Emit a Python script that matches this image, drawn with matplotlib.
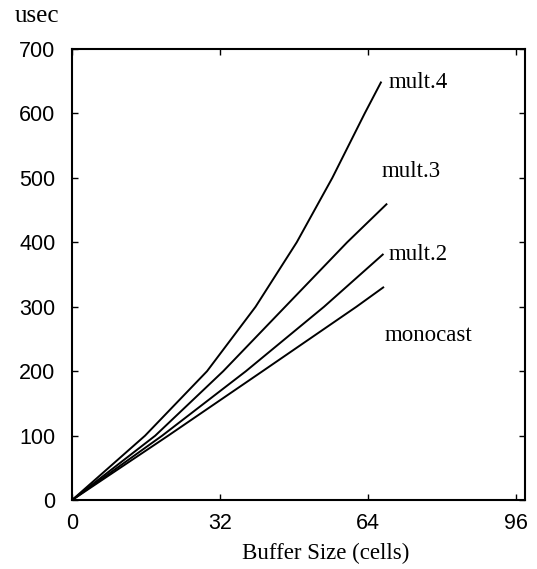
import matplotlib
matplotlib.use("Agg")
import matplotlib.pyplot as plt

# Buffer size (cells) vs. delay (usec)
mult4_x = [0, 15.8, 29.2, 39.7, 48.6, 56.3, 63.3, 66.8]
mult4_y = [0, 100, 200, 300, 400, 500, 600, 648]
mult3_x = [0, 18.0, 32.7, 46.1, 59.5, 68.0]
mult3_y = [0, 100, 200, 300, 400, 459]
mult2_x = [0, 19.5, 37.6, 54.5, 67.2]
mult2_y = [0, 100, 200, 300, 381]
mono_x = [0, 20.8, 41.2, 61.5, 67.3]
mono_y = [0, 100, 200, 300, 330]

curve_labels = ["mult.4", "mult.3", "mult.2", "monocast"]
label_pos = [(68.4, 648), (67.0, 510), (68.4, 381), (67.7, 256)]

x_ticks = [0, 32, 64, 96]
y_ticks = [0, 100, 200, 300, 400, 500, 600, 700]

serif = "Liberation Serif"
sans = "Liberation Sans"

fig = plt.figure(figsize=(5.37, 5.69), dpi=100)
ax = fig.add_axes([0.134, 0.121, 0.844, 0.793])

for xs, ys in [(mult4_x, mult4_y), (mult3_x, mult3_y),
               (mult2_x, mult2_y), (mono_x, mono_y)]:
    ax.plot(xs, ys, color="black", linewidth=1.4)

for name, (lx, ly) in zip(curve_labels, label_pos):
    ax.text(lx, ly, name, family=serif, fontsize=16.5, ha="left", va="center")

ax.set_xlim(0, 98)
ax.set_ylim(0, 700)
ax.set_xticks(x_ticks)
ax.set_yticks(y_ticks)
ax.tick_params(direction="in", top=True, right=True, length=4, width=1)
ax.tick_params(axis="y", pad=12, labelsize=15.5)
ax.tick_params(axis="x", pad=9, labelsize=15.5)
for lab in ax.get_xticklabels() + ax.get_yticklabels():
    lab.set_family(sans)
for sp in ax.spines.values():
    sp.set_linewidth(1.5)

ax.set_xlabel("Buffer Size (cells)", family=serif, fontsize=16.5)
ax.xaxis.set_label_coords(0.56, -0.095)
fig.text(15 / 537, 1 - 16 / 569, "usec", family=serif, fontsize=18,
         ha="left", va="center")

fig.savefig("out.png", dpi=100)
